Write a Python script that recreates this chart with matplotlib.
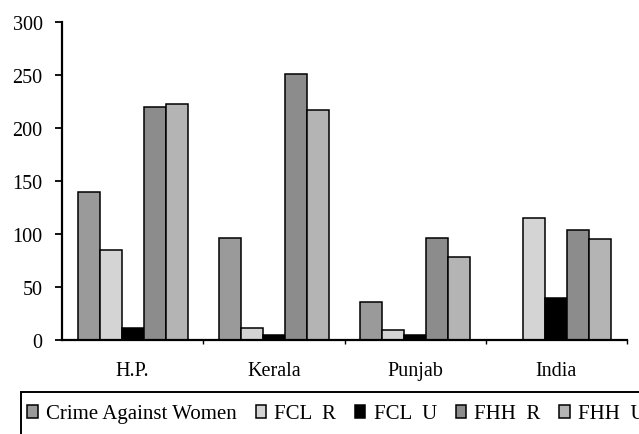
import numpy as np
import matplotlib.pyplot as plt
from matplotlib.patches import Rectangle

states = ['H.P.', 'Kerala', 'Punjab', 'India']
series = ['Crime Against Women', 'FCL  R', 'FCL  U', 'FHH  R', 'FHH  U']
crime = [140, 96, 36, 0]
fcl_r = [85, 11, 9, 115]
fcl_u = [11, 5, 5, 40]
fhh_r = [220, 251, 96, 104]
fhh_u = [223, 217, 78, 95]
colors = ['#9a9a9a', '#d4d4d4', '#000000', '#8c8c8c', '#b4b4b4']

plt.rcParams['font.family'] = 'Liberation Serif'

fig = plt.figure(figsize=(6.39, 4.35), dpi=100)
ax = fig.add_axes([62/639, 1-341/435, (627-62)/639, (341-23)/435])

x = np.arange(len(states)) + 0.5
w = 0.156
data = [crime, fcl_r, fcl_u, fhh_r, fhh_u]
for i, vals in enumerate(data):
    ax.bar(x + (i-2)*w, vals, w, color=colors[i], edgecolor='black',
           linewidth=1.1, label=series[i])

ax.set_xlim(0, 4)
ax.set_ylim(0, 300)
ax.set_yticks(range(0, 301, 50))
ax.set_xticks([1, 2, 3, 4])
ax.set_xticks(x, minor=True)
ax.set_xticklabels(states, minor=True)
ax.set_xticklabels([])
ax.tick_params(axis='x', which='major', length=3, width=1, direction='out')
ax.tick_params(axis='x', which='minor', length=0, pad=15, labelsize=14.5)
ax.tick_params(axis='y', length=5, width=1.3, pad=9, labelsize=14.5)
for s in ['top', 'right']:
    ax.spines[s].set_visible(False)
for s in ['left', 'bottom']:
    ax.spines[s].set_linewidth(1.6)

# legend box runs off the bottom and right edge, as in the scan
fig.patches.append(Rectangle((21/639, -0.1), 1.2, 1-393/435+0.1,
                             transform=fig.transFigure, fill=False,
                             edgecolor='black', linewidth=1.4))
leg = fig.legend(loc='center left', bbox_to_anchor=(21/639, 1-415/435),
                 ncol=5, fontsize=15, frameon=False,
                 handlelength=0.5, handleheight=0.6,
                 handletextpad=0.4, columnspacing=0.9, borderpad=0.3,
                 borderaxespad=0)

fig.savefig('out.png', dpi=100)
